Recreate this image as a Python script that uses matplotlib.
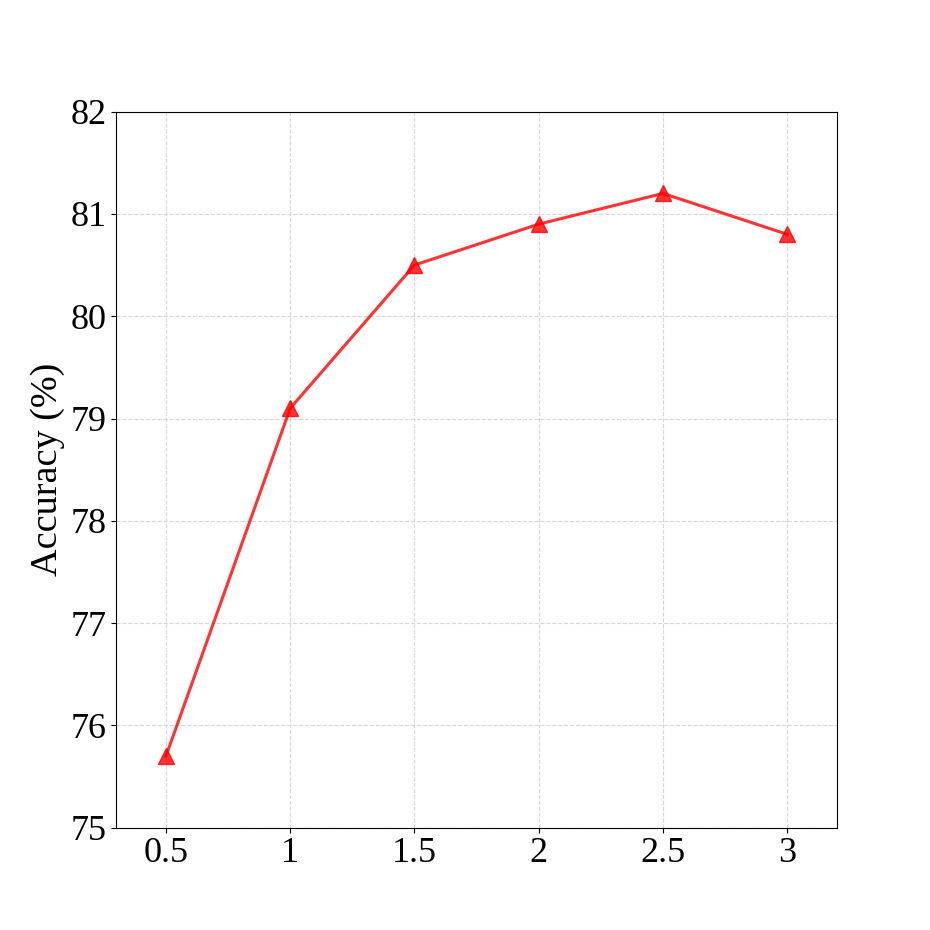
import matplotlib.pyplot as plt

plt.rcParams['font.family'] = ['Liberation Serif', 'DejaVu Serif']

x = [0.5, 1, 1.5, 2, 2.5, 3]
acc = [75.7, 79.1, 80.5, 80.9, 81.2, 80.8]
xtick_labels = ['0.5', '1', '1.5', '2', '2.5', '3']

fig, ax = plt.subplots(figsize=(9.3, 9.3), dpi=100)
ax.plot(x, acc, '-^', color='red', alpha=0.8, lw=2.2, ms=12, zorder=3)
ax.set_xticks(x)
ax.set_xticklabels(xtick_labels)
ax.set_xlim(0.3, 3.2)
ax.set_ylim(75, 82)
ax.set_ylabel('Accuracy (%)', fontsize=27.5)
ax.tick_params(labelsize=26)
ax.grid(linestyle='--', color='lightgray', alpha=0.9)

plt.savefig('out.png', dpi=100)
